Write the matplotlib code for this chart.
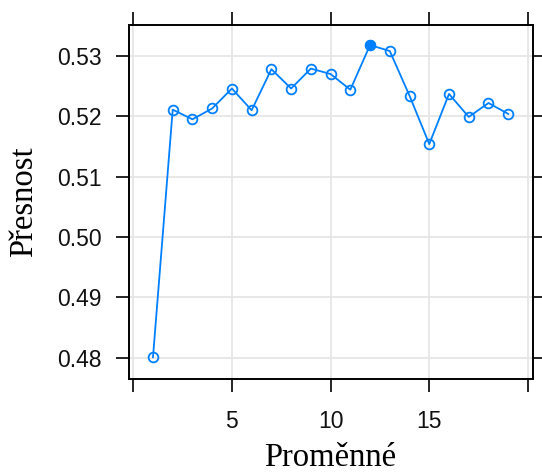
import matplotlib
matplotlib.use('Agg')
import matplotlib.pyplot as plt

# pocet promennych vs presnost
promenne = [1, 2, 3, 4, 5, 6, 7, 8, 9, 10, 11, 12, 13, 14, 15, 16, 17, 18, 19]
presnost = [0.4801, 0.5211, 0.5195, 0.5213, 0.5246, 0.5210, 0.5278, 0.5246,
            0.5279, 0.5270, 0.5244, 0.5318, 0.5308, 0.5234, 0.5154, 0.5237,
            0.5199, 0.5222, 0.5204]
best = 12  # vybrany model
x_ticks = [0, 5, 10, 15, 20]
x_labels = ['', '5', '10', '15', '']
y_ticks = [0.48, 0.49, 0.50, 0.51, 0.52, 0.53]
y_labels = ['0.48', '0.49', '0.50', '0.51', '0.52', '0.53']

col = '#0080ff'

fig = plt.figure(figsize=(5.42, 4.73), dpi=100)
ax = fig.add_axes([0.2371, 0.1987, 0.7457, 0.7495])

ax.plot(promenne, presnost, '-', color=col, lw=1.3, zorder=3)
ax.plot(promenne, presnost, 'o', color=col, mfc='none', mec=col, ms=7, mew=1.3, zorder=4)
i = promenne.index(best)
ax.plot([best], [presnost[i]], 'o', color=col, ms=7, zorder=5)

ax.set_xlim(-0.24, 20.24)
ax.set_ylim(0.4765, 0.5352)
ax.set_xticks(x_ticks)
ax.set_xticklabels(x_labels)
ax.set_yticks(y_ticks)
ax.set_yticklabels(y_labels)

ax.grid(True, color='#e6e6e6', lw=1.3, zorder=0)
ax.set_axisbelow(True)
for s in ax.spines.values():
    s.set_linewidth(1.4)
    s.set_color('black')

ax.tick_params(direction='out', length=9.5, width=1.2, colors='black',
               top=True, right=True, labeltop=False, labelright=False,
               labelsize=16.5, pad=10)
ax.tick_params(axis='x', pad=13)
for t in ax.get_xticklabels() + ax.get_yticklabels():
    t.set_fontfamily('Liberation Sans')
    t.set_color('#111111')

ax.set_xlabel('Proměnné', fontsize=23.5, fontfamily='Liberation Serif', labelpad=7)
ax.set_ylabel('Přesnost', fontsize=23.5, fontfamily='Liberation Serif', labelpad=13)

fig.savefig('out.png', dpi=100)
